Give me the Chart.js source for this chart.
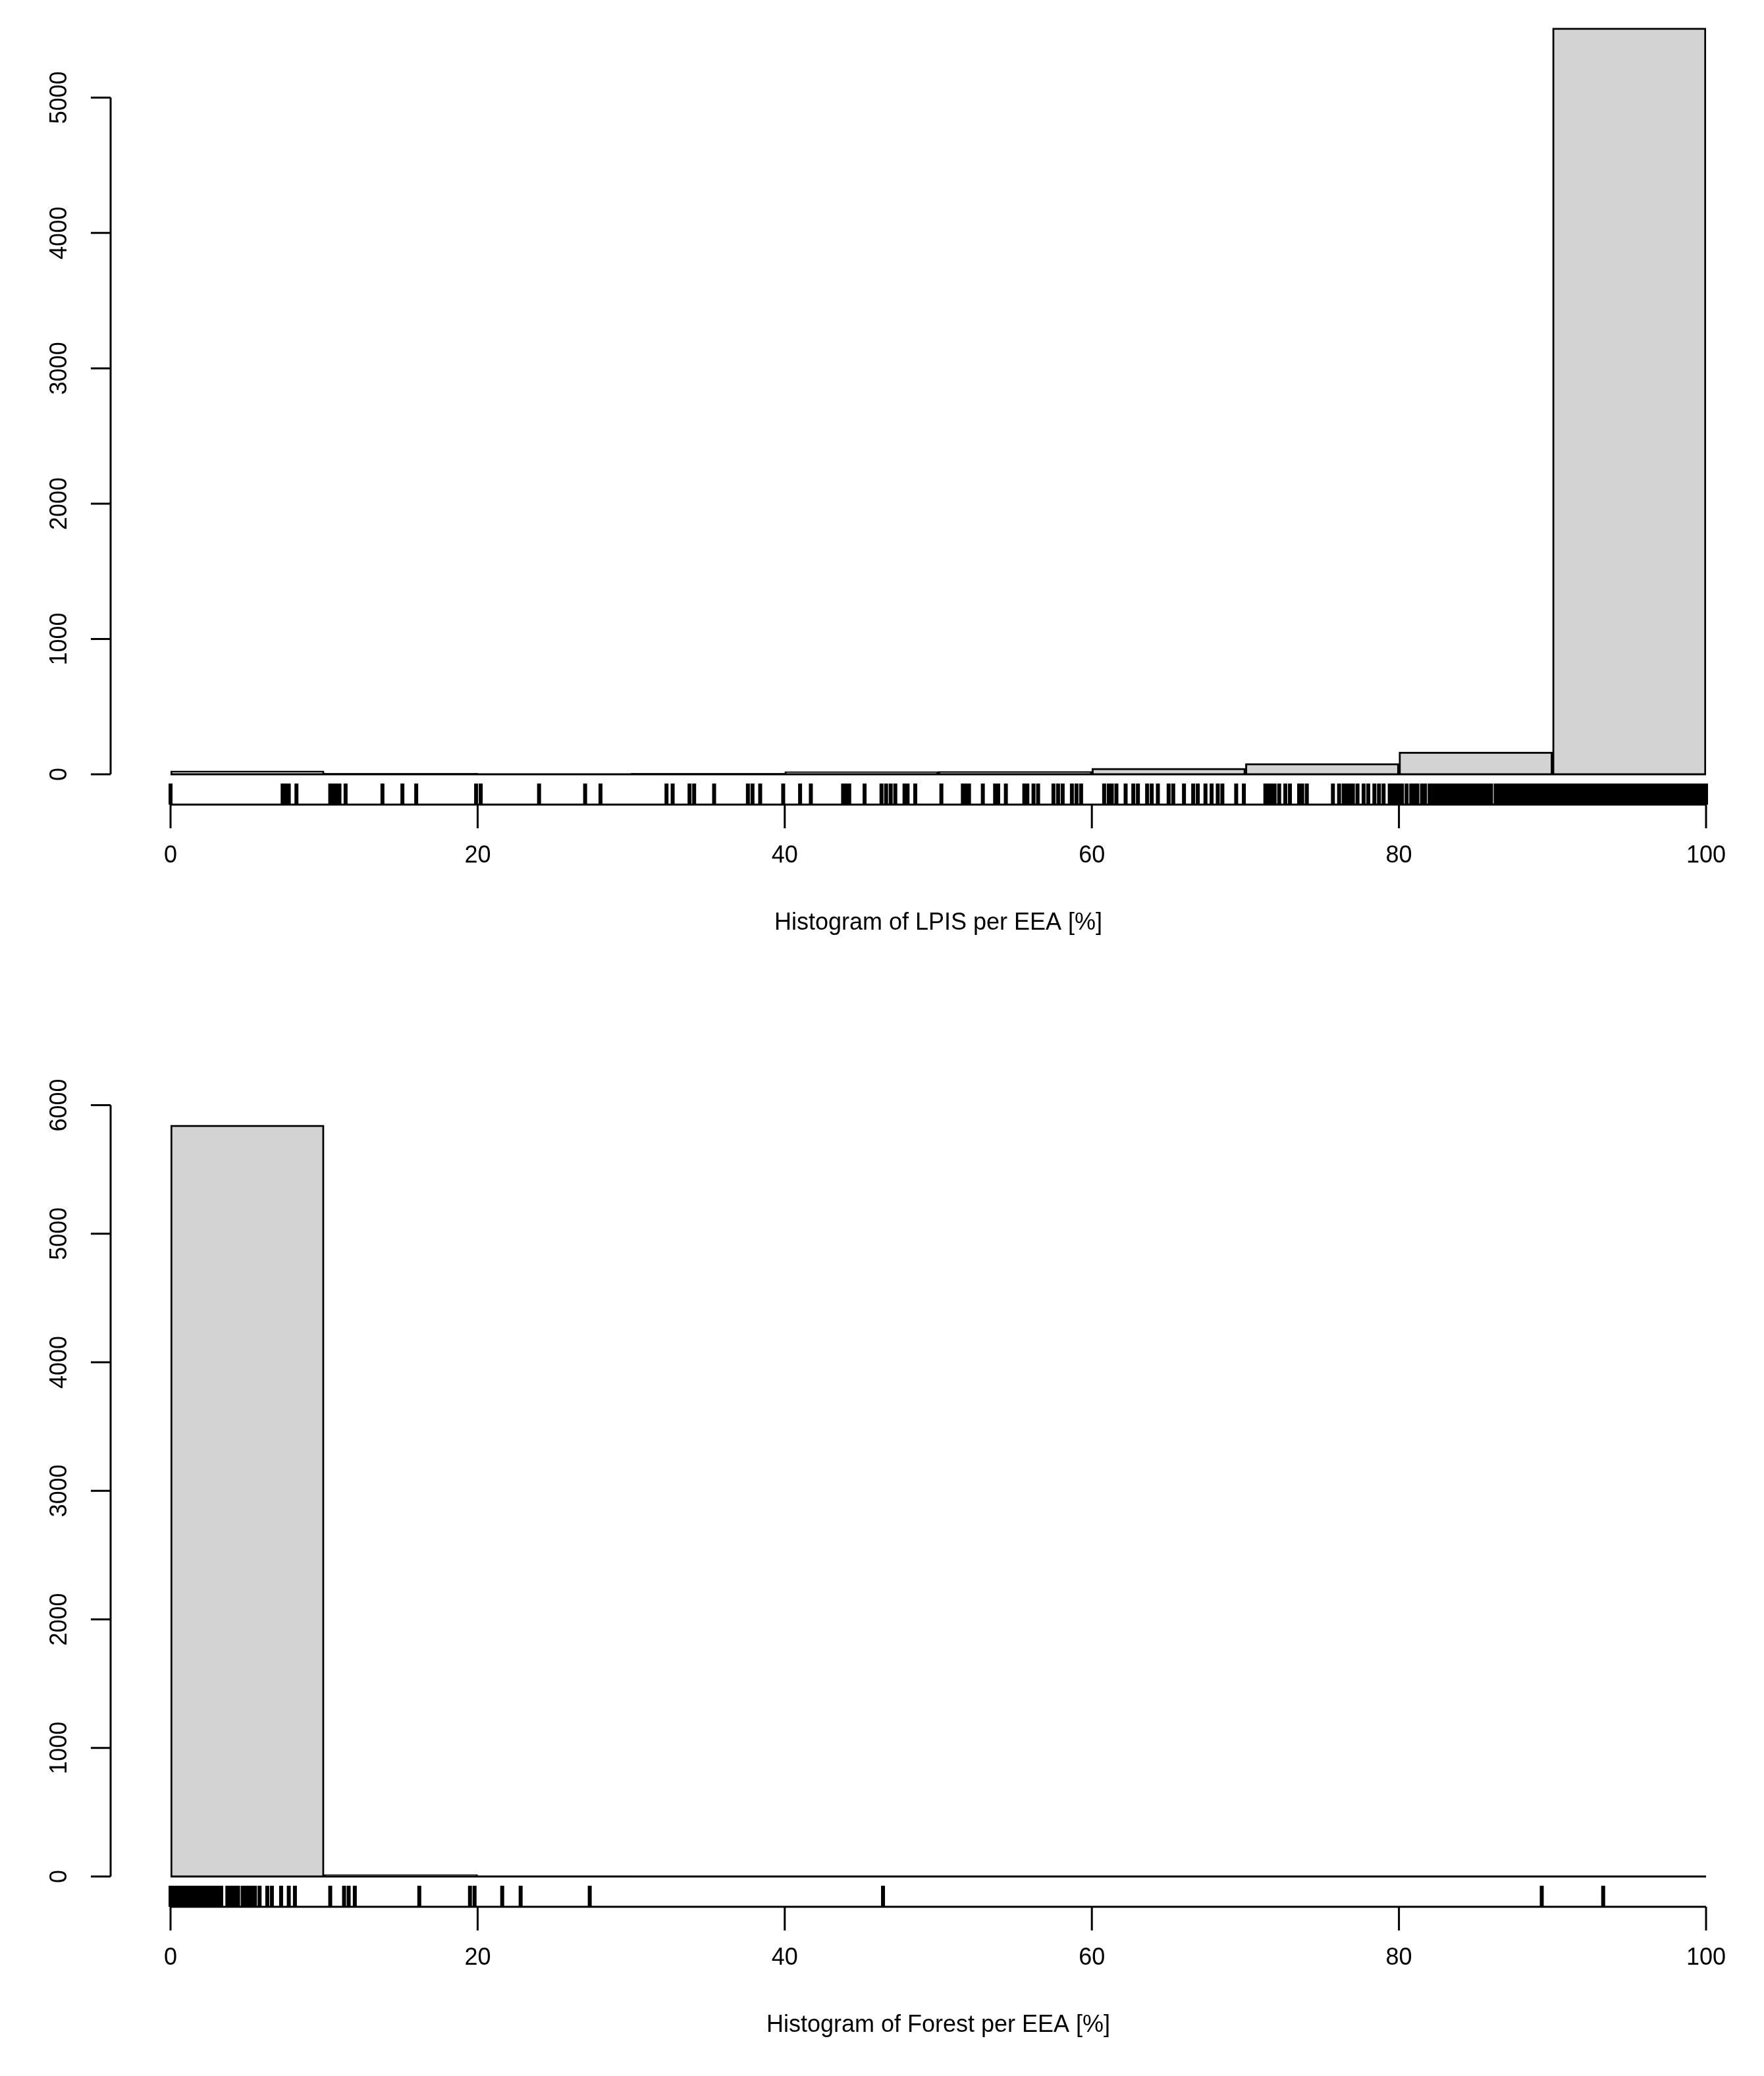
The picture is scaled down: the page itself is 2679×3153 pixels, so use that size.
<!DOCTYPE html>
<html>
<head>
<meta charset="utf-8">
<script src="https://cdn.jsdelivr.net/npm/chart.js@4"></script>
<style>
  html, body { margin: 0; background: #fff; overflow: hidden; }
  .box { position: absolute; left: 0; width: 2679px; height: 1576px; }
</style>
</head>
<body>
<div class="box" style="top:0"><canvas id="lpis"></canvas></div>
<div class="box" style="top:1576px"><canvas id="forest"></canvas></div>
<script>
// bin centres (bins of 10 %)
const binCentres = [5, 15, 25, 35, 45, 55, 65, 75, 85, 95];
const lpisCounts = [25, 8, 5, 8, 20, 22, 45, 80, 165, 5515];
const forestCounts = [5845, 15, 5, 2, 1, 1, 0, 0, 1, 1];
const xTicks = [0, 20, 40, 60, 80, 100];
const lpisYTicks = [0, 1000, 2000, 3000, 4000, 5000];
const forestYTicks = [0, 1000, 2000, 3000, 4000, 5000, 6000];

// rug marks
const lpisRug = [0, 7.3, 7.5, 7.7, 8.2, 10.4, 10.6, 10.8, 11, 11.4, 13.8, 15.1, 16, 19.9, 20.2, 24, 27, 28,
  32.3, 32.7, 33.8, 34.1, 35.4, 37.6, 37.9, 38.4, 39.9, 41, 41.7, 43.8, 44, 44.2, 45.2, 46.3, 46.6, 46.9, 47.2, 47.8, 48, 48.5,
  50.2, 51.6, 51.8, 52, 52.9, 53.7, 53.9, 54.4, 55.6, 55.8, 56.2, 56.5, 57.5, 57.8, 58.1, 58.7, 59, 59.3,
  60.8, 61.1, 61.3, 61.6, 62.2, 62.7, 63, 63.6, 63.9, 64.3, 65, 65.3, 66, 66.6, 66.9, 67.4, 67.8, 68.2, 68.5, 69.4, 69.9,
  71.3, 71.5, 71.7, 71.9, 72.2, 72.6, 72.9, 73.5, 73.7, 74, 75.7, 76.1, 76.4, 76.6, 76.8, 77, 77.3, 77.7, 78, 78.4, 78.7, 79,
  79.4, 79.6, 79.8, 80, 80.2, 80.5, 80.8, 81, 81.2, 81.5, 81.7, 82, 82.2, 82.4, 82.6, 82.8, 83, 83.2, 83.4, 83.6, 83.8, 84,
  84.2, 84.4, 84.6, 84.8, 85, 85.2, 85.4, 85.6, 85.8, 86, 86.3,
  86.5, 86.75, 87, 87.25, 87.5, 87.75, 88, 88.25, 88.5, 88.75, 89, 89.25, 89.5, 89.75, 90, 90.25, 90.5, 90.75,
  91, 91.25, 91.5, 91.75, 92, 92.25, 92.5, 92.75, 93, 93.25, 93.5, 93.75, 94, 94.25, 94.5, 94.75,
  95, 95.25, 95.5, 95.75, 96, 96.25, 96.5, 96.75, 97, 97.25, 97.5, 97.75, 98, 98.25, 98.5, 98.75, 99, 99.25, 99.5, 99.75, 100];
const forestRug = [0, 0.2, 0.4, 0.6, 0.8, 1, 1.2, 1.4, 1.6, 1.8, 2, 2.2, 2.4, 2.6, 2.8, 3, 3.2, 3.3, 3.7, 3.85, 4,
  4.2, 4.4, 4.7, 4.9, 5.1, 5.3, 5.5, 5.8, 6.3, 6.6, 7.2, 7.7, 8.1, 10.4, 11.3, 11.6, 12, 16.2, 19.5, 19.8,
  21.6, 22.8, 27.3, 46.4, 89.3, 93.3];

const FONT = '"Liberation Sans", Arial, sans-serif';

const rPlot = {
  id: 'rPlot',
  afterDraw(chart, args, o) {
    const ctx = chart.ctx, x = chart.scales.x, y = chart.scales.y;
    const base = y.getPixelForValue(0);
    const x0 = x.getPixelForValue(0), x1 = x.getPixelForValue(100);
    ctx.save();
    ctx.strokeStyle = '#000';
    ctx.fillStyle = '#000';
    // zero line of histogram
    ctx.lineWidth = 3;
    ctx.beginPath(); ctx.moveTo(x0, base); ctx.lineTo(x1, base); ctx.stroke();
    // rug
    ctx.lineWidth = 6;
    ctx.beginPath();
    o.rug.forEach(v => {
      const px = x.getPixelForValue(v);
      ctx.moveTo(px, base + 14); ctx.lineTo(px, base + 46);
    });
    ctx.stroke();
    // x axis
    ctx.lineWidth = 3;
    ctx.beginPath();
    ctx.moveTo(x0, base + 46); ctx.lineTo(x1, base + 46);
    xTicks.forEach(v => {
      const px = x.getPixelForValue(v);
      ctx.moveTo(px, base + 46); ctx.lineTo(px, base + 82);
    });
    ctx.stroke();
    ctx.font = '36px ' + FONT;
    ctx.textAlign = 'center'; ctx.textBaseline = 'middle';
    xTicks.forEach(v => ctx.fillText(String(v), x.getPixelForValue(v), base + 124));
    ctx.fillText(o.title, (x0 + x1) / 2, base + 226);
    // y axis
    const ax = 168;
    const yt = o.yTicks;
    ctx.beginPath();
    ctx.moveTo(ax, y.getPixelForValue(yt[0])); ctx.lineTo(ax, y.getPixelForValue(yt[yt.length - 1]));
    yt.forEach(v => {
      const py = y.getPixelForValue(v);
      ctx.moveTo(ax, py); ctx.lineTo(ax - 30, py);
    });
    ctx.stroke();
    yt.forEach(v => {
      ctx.save();
      ctx.translate(91, y.getPixelForValue(v));
      ctx.rotate(-Math.PI / 2);
      ctx.fillText(String(v), 0, 0);
      ctx.restore();
    });
    ctx.restore();
  }
};

function makeHist(id, counts, yMax, top, bottom, yTicks, rug, title) {
  return new Chart(document.getElementById(id), {
    type: 'bar',
    data: {
      datasets: [{
        data: binCentres.map((c, i) => ({ x: c, y: counts[i] })),
        backgroundColor: '#d3d3d3',
        borderColor: '#000',
        borderWidth: 3,
        barPercentage: 1,
        categoryPercentage: 1,
        grouped: false
      }]
    },
    options: {
      responsive: true,
      maintainAspectRatio: false,
      animation: false,
      layout: { padding: { left: 259, right: 88, top: top, bottom: bottom } },
      plugins: { legend: { display: false }, tooltip: { enabled: false }, rPlot: { rug, yTicks, title } },
      scales: {
        x: { type: 'linear', min: 0, max: 100, offset: false, display: false },
        y: { min: 0, max: yMax, display: false }
      }
    },
    plugins: [rPlot]
  });
}

makeHist('lpis', lpisCounts, 5600, 25, 400, lpisYTicks, lpisRug, 'Histogram of LPIS per EEA [%]');
makeHist('forest', forestCounts, 6300, 44, 302, forestYTicks, forestRug, 'Histogram of Forest per EEA [%]');
</script>
</body>
</html>
